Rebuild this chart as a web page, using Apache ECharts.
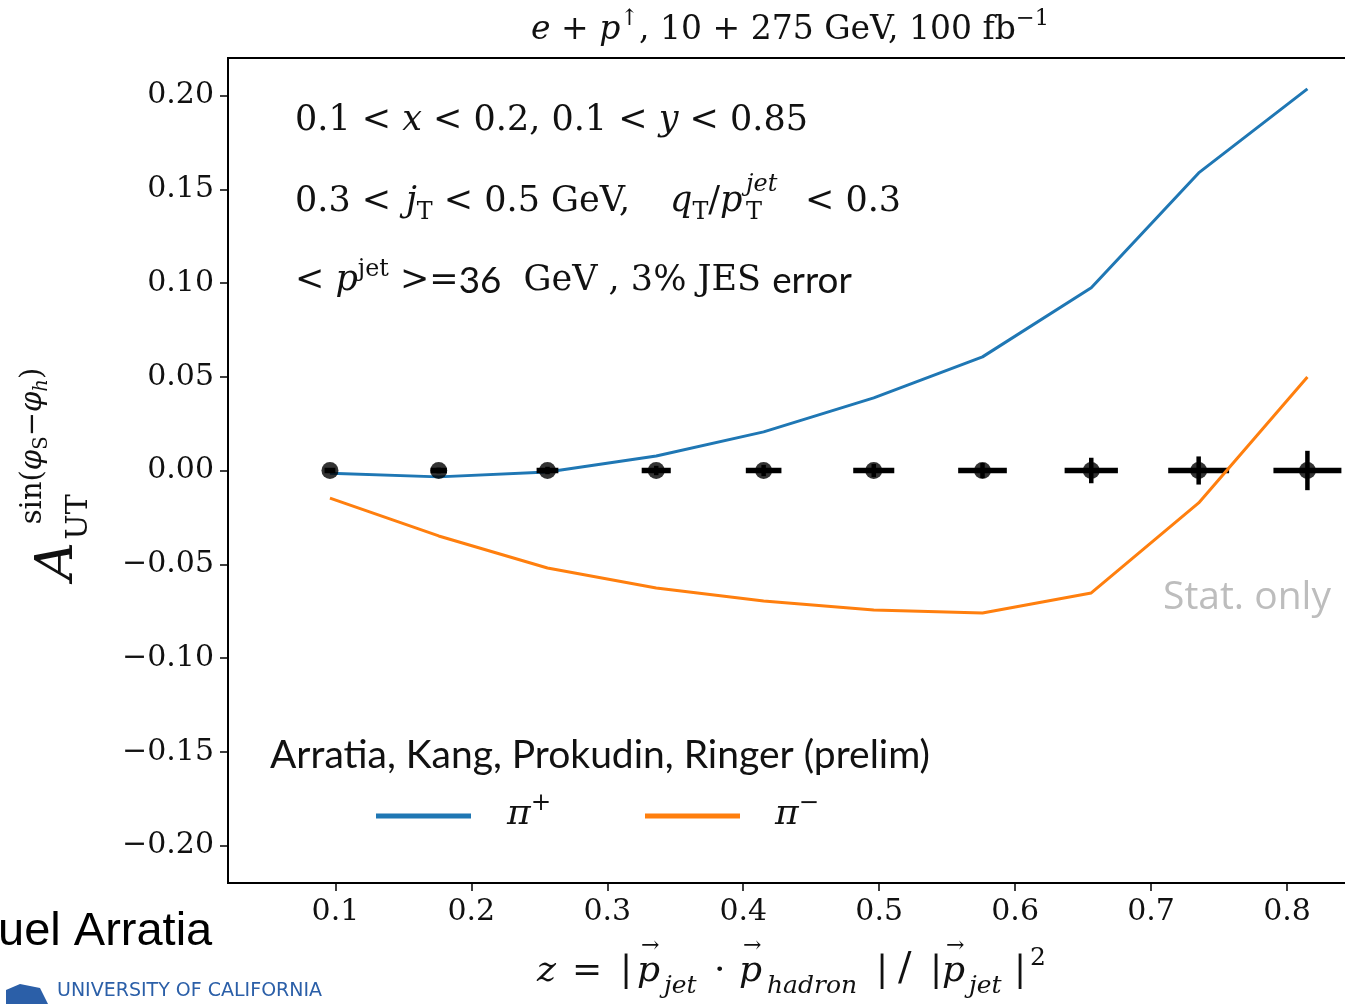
<!DOCTYPE html>
<html>
<head>
<meta charset="utf-8">
<script src="https://cdn.jsdelivr.net/npm/echarts@6/dist/echarts.min.js"></script>
<style>
html, body { margin: 0; background: #fff; }
#chart { width: 1345px; height: 1004px; }
</style>
</head>
<body>
<div id="chart"></div>
<script>
// z bins and projected asymmetry points (pseudo-data at zero)
var zBins = [0.096, 0.176, 0.256, 0.336, 0.415, 0.496, 0.576, 0.656, 0.735, 0.815];
var asymPoints = [0, 0, 0, 0, 0, 0, 0, 0, 0, 0];
var zErr = [0.004, 0.006, 0.008, 0.0107, 0.0131, 0.0151, 0.0179, 0.0196, 0.0224, 0.025];
var asymErr = [0.001, 0.0015, 0.002, 0.0025, 0.003, 0.0035, 0.004, 0.0068, 0.0075, 0.0105];

// theory curves
var piPlus = [-0.0015, -0.0034, -0.0008, 0.0077, 0.0206, 0.0387, 0.0606, 0.0975, 0.1587, 0.2035];
var piMinus = [-0.0147, -0.0349, -0.052, -0.0627, -0.0696, -0.0744, -0.076, -0.0653, -0.0173, 0.0499];

var xTicks = [0.1, 0.2, 0.3, 0.4, 0.5, 0.6, 0.7, 0.8];
var yTicks = [-0.2, -0.15, -0.1, -0.05, 0, 0.05, 0.1, 0.15, 0.2];

var serif = '"DejaVu Serif", "Liberation Serif", serif';
var sans = 'Lato, "Open Sans", sans-serif';

function pairs(xs, ys) {
  return xs.map(function (x, i) { return [x, ys[i]]; });
}

var chart = echarts.init(document.getElementById('chart'));

function mathRich(size) {
  return {
    i: { fontFamily: serif, fontStyle: 'italic', fontSize: size, lineHeight: size * 1.3 },
    sup: { fontFamily: serif, fontSize: size * 0.68, lineHeight: size * 0.75, verticalAlign: 'top' },
    sub: { fontFamily: serif, fontSize: size * 0.68, lineHeight: size * 0.75, verticalAlign: 'bottom' },
    subi: { fontFamily: serif, fontStyle: 'italic', fontSize: size * 0.68, lineHeight: size * 0.75, verticalAlign: 'bottom' },
    ss: { fontFamily: sans, fontSize: size * 1.05, lineHeight: size * 1.3 }
  };
}

function mtext(x, y, text, size, extra) {
  return {
    type: 'text',
    x: x, y: y,
    style: Object.assign({
      text: text,
      fontFamily: serif,
      fontSize: size,
      fill: '#111',
      align: 'left',
      verticalAlign: 'middle',
      rich: mathRich(size)
    }, extra || {})
  };
}

function rtext(x, y, text, size, extra) {
  var el = mtext(x, y, text, size, Object.assign({ align: 'center' }, extra || {}));
  el.rotation = Math.PI / 2;
  return el;
}

var it = { fontStyle: 'italic' };

// x axis title pieces
var xLabel = [
  mtext(537, 972, 'z', 36, it),
  mtext(572, 972, '=', 36),
  mtext(620, 972, '|', 36),
  mtext(637, 972, 'p', 36, it),
  mtext(641, 946, '\u2192', 22),
  mtext(664, 986, 'jet', 25, it),
  mtext(714, 972, '\u00b7', 36),
  mtext(739, 972, 'p', 36, it),
  mtext(743, 946, '\u2192', 22),
  mtext(767, 986, 'hadron', 25, it),
  mtext(876, 972, '|', 36),
  mtext(898, 970, '/', 40),
  mtext(930, 972, '|', 36),
  mtext(942, 972, 'p', 36, it),
  mtext(946, 946, '\u2192', 22),
  mtext(969, 986, 'jet', 25, it),
  mtext(1014, 972, '|', 36),
  mtext(1030, 958, '2', 25)
];

// annotation lines
var notes = [
  mtext(295, 121, '0.1 < {i|x} < 0.2, 0.1 < {i|y} < 0.85', 35),
  mtext(295, 202, '0.3 <', 35),
  mtext(406, 202, '{i|j}{sub|T} < 0.5 GeV,', 35),
  mtext(670, 202, '{i|q}{sub|T}/{i|p}', 35),
  mtext(746, 213, 'T', 24),
  mtext(746, 185, 'jet', 24, it),
  mtext(805, 202, '< 0.3', 35),
  mtext(295, 281, '< {i|p}{sup|jet} >={ss|36}  GeV , 3% JES {ss|error}', 35)
];

var option = {
  animation: false,
  backgroundColor: '#fff',
  grid: {
    left: 228, top: 58, width: 1127, height: 825,
    outerBoundsMode: 'none',
    show: true, borderColor: '#000', borderWidth: 2, backgroundColor: 'transparent'
  },
  xAxis: {
    type: 'value', min: 0.021, max: 0.85,
    splitLine: { show: false },
    axisLine: { onZero: false, lineStyle: { color: '#000', width: 2 } },
    axisTick: { customValues: xTicks, length: 8, lineStyle: { color: '#000', width: 1.5 } },
    axisLabel: {
      customValues: xTicks, margin: 14, color: '#111', fontFamily: serif, fontSize: 30,
      formatter: function (v) { return v.toFixed(1); }
    }
  },
  yAxis: {
    type: 'value', min: -0.22, max: 0.22,
    splitLine: { show: false },
    axisLine: { onZero: false, lineStyle: { color: '#000', width: 2 } },
    axisTick: { customValues: yTicks, length: 8, lineStyle: { color: '#000', width: 1.5 } },
    axisLabel: {
      customValues: yTicks, margin: 14, color: '#111', fontFamily: serif, fontSize: 30,
      formatter: function (v) {
        var s = Math.abs(v).toFixed(2);
        return v < -1e-9 ? '\u2212' + s : s;
      }
    }
  },
  series: [
    {
      type: 'line', name: 'pi+', data: pairs(zBins, piPlus), showSymbol: false, z: 1,
      lineStyle: { color: '#1f77b4', width: 3 }
    },
    {
      type: 'custom', name: 'err', z: 2,
      data: zBins.map(function (x, i) { return [x, asymPoints[i], zErr[i], asymErr[i]]; }),
      encode: { x: 0, y: 1 },
      renderItem: function (params, api) {
        var x = api.value(0), y = api.value(1), ex = api.value(2), ey = api.value(3);
        var l = api.coord([x - ex, y]), r = api.coord([x + ex, y]);
        var t = api.coord([x, y + ey]), b = api.coord([x, y - ey]);
        return {
          type: 'group',
          children: [
            { type: 'line', shape: { x1: l[0], y1: l[1], x2: r[0], y2: r[1] }, style: { stroke: '#000', lineWidth: 5.5 } },
            { type: 'line', shape: { x1: t[0], y1: t[1], x2: b[0], y2: b[1] }, style: { stroke: '#000', lineWidth: 4.5 } }
          ]
        };
      }
    },
    {
      type: 'scatter', name: 'pts', data: pairs(zBins, asymPoints), z: 2,
      symbol: 'circle', symbolSize: 17, itemStyle: { color: '#000' }
    },
    {
      type: 'line', name: 'pi-', data: pairs(zBins, piMinus), showSymbol: false, z: 3,
      lineStyle: { color: '#ff7f0e', width: 3 }
    }
  ],
  graphic: [
    // title
    mtext(790, 30, '{i|e} + {i|p}{sup|\u2191}, 10 + 275 GeV, 100 fb{sup|\u22121}', 33, { align: 'center' }),
    // y axis label (rotated)
    rtext(58, 561, 'A', 53, it),
    rtext(79, 517, 'UT', 30),
    rtext(33, 446, 'sin({i|\u03c6}{sub|S}\u2212{i|\u03c6}{subi|h})', 29)
  ].concat(notes).concat(xLabel).concat([
    // legend
    { type: 'text', x: 270, y: 755, style: { text: 'Arratia, Kang, Prokudin, Ringer (prelim)', fontFamily: sans, fontSize: 39, fill: '#111', verticalAlign: 'middle' } },
    { type: 'line', shape: { x1: 376, y1: 816, x2: 471, y2: 816 }, style: { stroke: '#1f77b4', lineWidth: 5 } },
    { type: 'line', shape: { x1: 645, y1: 816, x2: 740, y2: 816 }, style: { stroke: '#ff7f0e', lineWidth: 5 } },
    mtext(507, 815, '{i|\u03c0}{sup|+}', 36),
    mtext(775, 815, '{i|\u03c0}{sup|\u2212}', 36),
    // stat only
    { type: 'text', x: 1163, y: 598, style: { text: 'Stat. only', fontFamily: '"Open Sans", sans-serif', fontSize: 39, fill: '#bdbdbd', verticalAlign: 'middle' } },
    // slide footer remnants
    { type: 'text', x: -2, y: 932, style: { text: 'uel Arratia', fontFamily: '"Liberation Sans", Arial, sans-serif', fontSize: 47, fill: '#000', verticalAlign: 'middle' } },
    { type: 'text', x: 57, y: 991, style: { text: 'UNIVERSITY OF CALIFORNIA', fontFamily: '"DejaVu Sans", sans-serif', fontSize: 19, fill: '#2b5fa8', verticalAlign: 'middle' } },
    { type: 'text', x: 52, y: 1001, style: { text: 'RIVERSIDE', fontFamily: '"Liberation Sans", Arial, sans-serif', fontWeight: 'bold', fontSize: 46, fill: '#2b5fa8', verticalAlign: 'top' } },
    { type: 'polygon', shape: { points: [[6, 1004], [6, 990], [20, 984], [40, 988], [48, 1004]] }, style: { fill: '#2b5fa8' } }
  ])
};

chart.setOption(option);
</script>
</body>
</html>
